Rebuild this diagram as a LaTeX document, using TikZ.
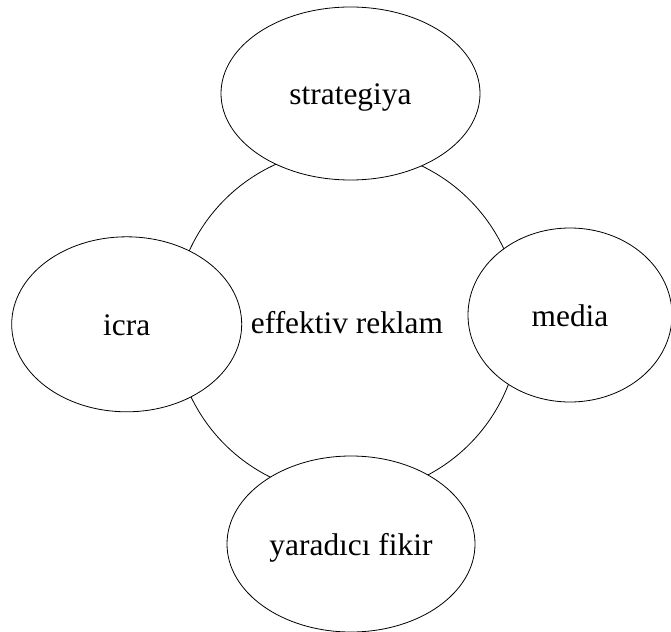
\documentclass[tikz,border=0pt]{standalone}
\usepackage{fontspec}
\setmainfont[Ligatures=NoCommon]{Liberation Serif}
\usetikzlibrary{shapes.geometric}
\begin{document}
\begin{tikzpicture}[x = 1pt, y = -1pt, line width = 0.8pt,
  font = \fontsize{31.4}{36}\selectfont, text height = 23pt, text depth = 0pt,
  hub/.style = {circle, draw, inner sep = 0, minimum size = 346pt},
  oval/.style = {ellipse, draw, fill = white, inner sep = 0}]
\useasboundingbox (0,0) rectangle (671,631);
\node [hub] (reklam) at (347,322) {effektiv reklam};
\node [oval, minimum width = 259pt, minimum height = 173pt] (strategiya) at (350.5,93.5) {strategiya};
\node [oval, minimum width = 230pt, minimum height = 175pt] (icra) at (126.7,324.3) {icra};
\node [oval, minimum width = 204pt, minimum height = 174pt] (media) at (570,315) {media};
\node [oval, minimum width = 248pt, minimum height = 176pt] (fikir) at (351,544) {yarad\i c\i{} fikir};
\end{tikzpicture}
\end{document}
